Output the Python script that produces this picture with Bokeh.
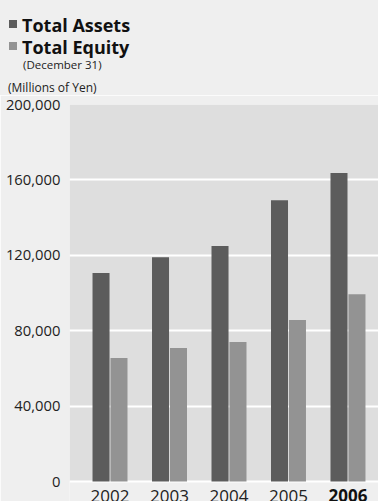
from bokeh.plotting import figure
from bokeh.layouts import column
from bokeh.models import (NumeralTickFormatter, FixedTicker, Range1d, ColumnDataSource,
                          BoxAnnotation, Div)
from bokeh.transform import dodge
from bokeh.core.properties import value
from bokeh.embed import file_html
from bokeh.resources import INLINE

# ---- data ----
years = ["2002", "2003", "2004", "2005", "2006"]
total_assets = [110600, 119000, 124900, 149200, 163600]
total_equity = [65500, 70800, 74000, 85700, 99400]
series_names = ["Total Assets", "Total Equity"]
y_ticks = [0, 40000, 80000, 120000, 160000, 200000]

FONT = "Open Sans"
COLORS = ["#5c5c5c", "#939393"]
BG = "#efefef"
W = 378
H_HEAD = 95
H_MAIN = 501 - H_HEAD
PAD_TOP = 9                 # main: px above the 200,000 line
BELOW_ZERO = 20             # main: px of frame below the 0 line
PLOT_H = H_MAIN - PAD_TOP - BELOW_ZERO
Y_MAX = 200000
px = Y_MAX / PLOT_H         # data units per pixel

# ---------------- header (legend + notes) ----------------
def box(left, top, color):
    return (f'<span style="position:absolute;left:{left}px;top:{top}px;width:8px;'
            f'height:8px;background:{color};"></span>')


def txt(left, top, size, s, weight="normal", color="#222222"):
    return (f'<span style="position:absolute;left:{left}px;top:{top}px;font-size:{size}px;'
            f'line-height:1;font-weight:{weight};color:{color};white-space:nowrap;">{s}</span>')


head_html = (
    f'<div style="position:relative;width:{W}px;height:{H_HEAD}px;background:{BG};'
    f'font-family:\'{FONT}\';">'
    + box(9, 19.5, COLORS[0]) + txt(22, 15.5, 18, series_names[0], "bold", "#111111")
    + box(9, 41.5, COLORS[1]) + txt(22, 37.5, 18, series_names[1], "bold", "#111111")
    + txt(23, 59, 11.5, "(December 31)")
    + txt(8, 81.5, 12, "(Millions of Yen)")
    + '</div>'
)
head = Div(text=head_html, width=W, height=H_HEAD, margin=0)

# ---------------- main chart ----------------
idx = list(range(len(years)))
src = ColumnDataSource(dict(x=idx, assets=total_assets, equity=total_equity))
xr = Range1d(-0.681, 4.513)

p = figure(width=W, height=H_MAIN, output_backend="svg", toolbar_location=None,
           x_range=xr, y_range=Range1d(-BELOW_ZERO * px, Y_MAX), x_axis_location=None,
           min_border_left=69, min_border_right=0, min_border_top=PAD_TOP,
           min_border_bottom=0)
p.background_fill_color = BG
p.border_fill_color = BG
p.outline_line_color = None

# grey plotting area from 0 to 200,000
p.add_layout(BoxAnnotation(bottom=0, top=Y_MAX, fill_color="#dedede", fill_alpha=1,
                           line_color=None, level="image"))

p.vbar(x=dodge("x", -0.151, range=xr), top="assets", width=0.286,
       source=src, fill_color=COLORS[0], line_color=None)
p.vbar(x=dodge("x", 0.151, range=xr), top="equity", width=0.286,
       source=src, fill_color=COLORS[1], line_color=None)

p.xgrid.grid_line_color = None
p.ygrid.grid_line_color = "white"
p.ygrid.grid_line_width = 2
p.ygrid.ticker = FixedTicker(ticks=y_ticks)

ya = p.yaxis[0]
ya.ticker = FixedTicker(ticks=y_ticks)
ya.formatter = NumeralTickFormatter(format="0,0")
ya.axis_line_color = None
ya.major_tick_line_color = None
ya.minor_tick_line_color = None
ya.major_label_standoff = 3
ya.major_label_text_font = FONT
ya.major_label_text_font_size = "14.8px"
ya.major_label_text_color = "#222222"

# year labels under the bars, on the chart's own x scale
yr_src = ColumnDataSource(dict(
    x=idx, y=[-14 * px] * len(years), text=years,
    style=["bold" if y == years[-1] else "normal" for y in years],
    color=["#111111" if y == years[-1] else "#222222" for y in years]))
p.text(x="x", y="y", text="text", source=yr_src, text_font=value(FONT),
       text_font_size="17px", text_font_style="style", text_color="color",
       text_align="center", text_baseline="alphabetic")

layout = column(head, p, spacing=0)
open("out.html", "w").write(file_html(layout, INLINE))
